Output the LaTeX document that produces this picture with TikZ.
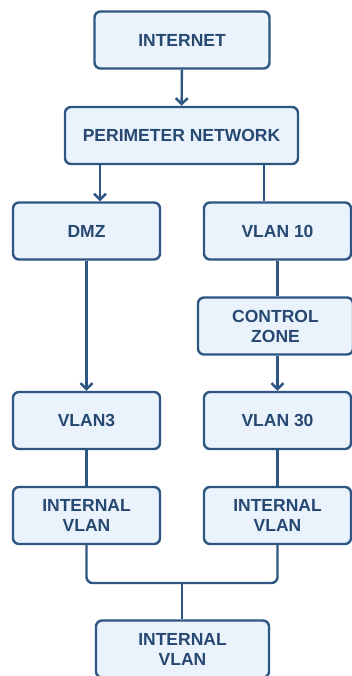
\documentclass[tikz,border=0pt]{standalone}
\usepackage{fontspec}
\setmainfont{Liberation Sans}
\usetikzlibrary{positioning,arrows.meta}
\definecolor{lineblue}{HTML}{2E5682}
\definecolor{fillblue}{HTML}{EAF3FC}
\definecolor{textblue}{HTML}{274870}
\tikzset{
    netbox/.style = {draw=lineblue, fill=fillblue, line width=2.4pt, rounded corners=6pt,
        minimum height=57pt, minimum width=147pt, align=center, text=textblue,
        font=\fontsize{17.5}{20}\selectfont\bfseries, inner sep=2pt},
    link/.style = {draw=lineblue, line width=2.4pt},
    arr/.style = {link, -{Straight Barb[length=6pt,width=12pt,line width=2.4pt]}}
}
\begin{document}
\begin{tikzpicture}[x=1pt, y=-1pt]%
    \useasboundingbox (0,0) rectangle (352,676);
    \node (internet) [netbox, minimum width=175pt] at (182,40) {INTERNET};
    \node (perimeter) [netbox, minimum width=233pt] at (181.5,135.5) {PERIMETER NETWORK};
    \node (dmz) [netbox] at (86.5,231) {DMZ};
    \node (vlan10) [netbox] at (277.5,231) {VLAN 10};
    \node (control) [netbox, minimum width=155pt] at (275.5,326) {CONTROL\\ZONE};
    \node (vlan3) [netbox] at (86.5,420.5) {VLAN3};
    \node (vlan30) [netbox] at (277.5,420.5) {VLAN 30};
    \node (intleft) [netbox] at (86.5,515.5) {INTERNAL\\VLAN};
    \node (intright) [netbox] at (277.5,515.5) {INTERNAL\\VLAN};
    \node (intmain) [netbox, minimum width=173pt] at (182.5,649) {INTERNAL\\VLAN};
    \coordinate (merge) at (182,583);
    \draw[arr] (internet) -- (perimeter);
    \draw[arr] ([xshift=13.5pt]dmz.north |- perimeter.south) -- ([xshift=13.5pt]dmz.north);
    \draw[link] ([xshift=-13.5pt]vlan10.north |- perimeter.south) -- ([xshift=-13.5pt]vlan10.north);
    \draw[link] (vlan10) -- (vlan10 |- control.north);
    \draw[arr] (dmz) -- (vlan3);
    \draw[arr] (vlan10 |- control.south) -- (vlan30);
    \draw[link] (vlan3) -- (intleft);
    \draw[link] (vlan30) -- (intright);
    \draw[link, rounded corners=6pt] (intleft.south) |- (merge) -| (intright.south);
    \draw[link] (merge) -- (merge |- intmain.north);
\end{tikzpicture}
\end{document}
